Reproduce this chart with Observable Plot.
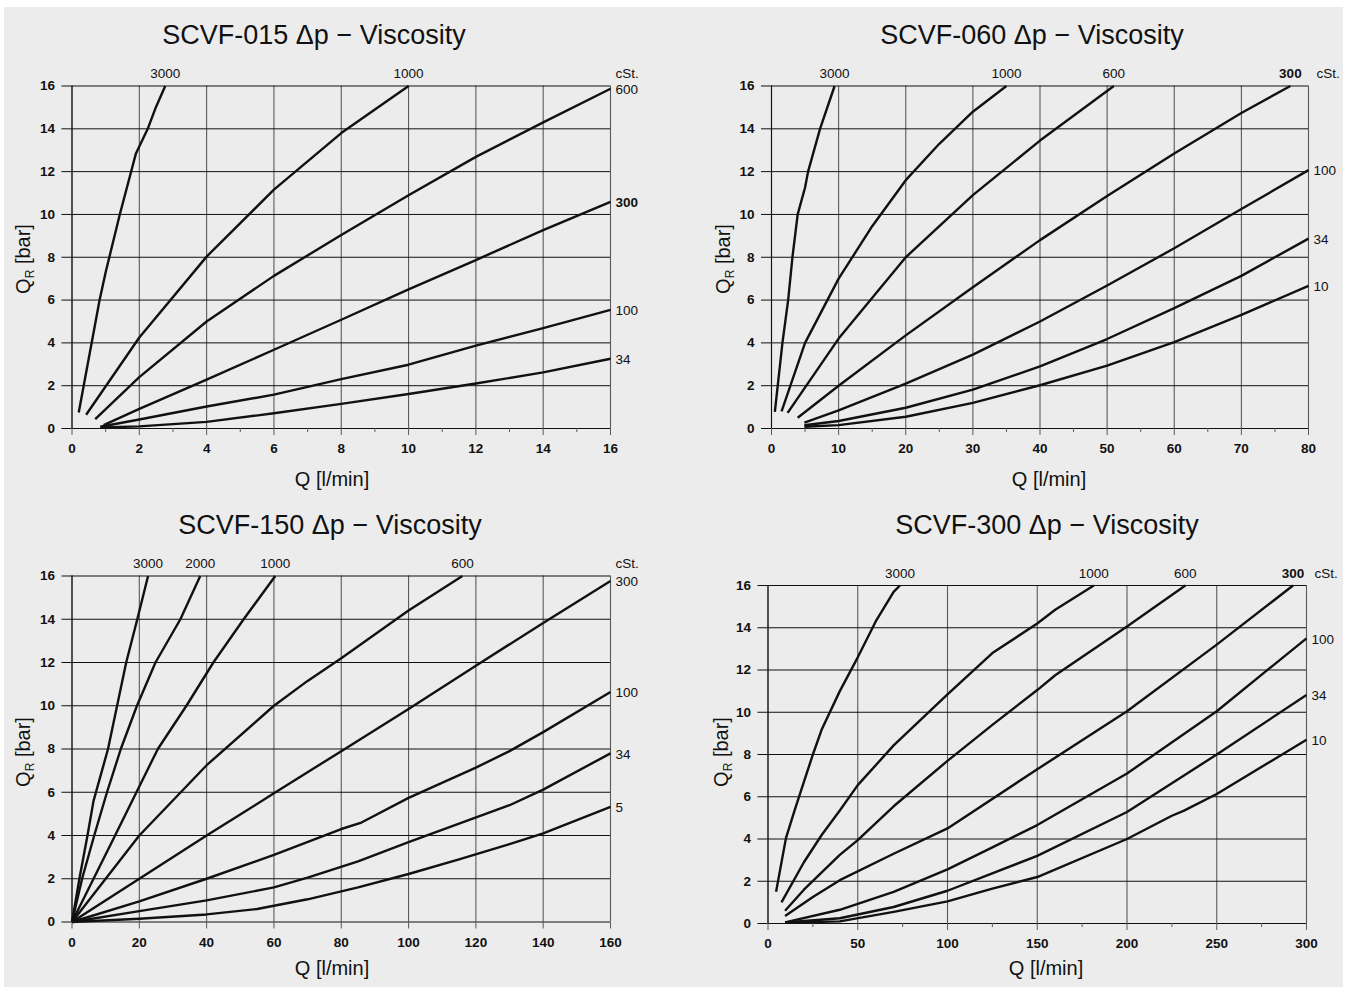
<!DOCTYPE html>
<html><head><meta charset="utf-8">
<script src="https://cdn.jsdelivr.net/npm/d3@7"></script>
<script src="https://cdn.jsdelivr.net/npm/@observablehq/plot@0.6"></script>
<style>
body{margin:0;background:#fff;width:1351px;height:990px;position:relative;overflow:hidden;font-family:"Liberation Sans",Arial,Helvetica,sans-serif;color:#111;}
#bg{position:absolute;left:4px;top:7px;width:1339px;height:980px;background:#ececec;}
.panel{position:absolute;}
.title{position:absolute;font-size:27px;transform:translate(-50%,-50%);white-space:nowrap;}
.xl{position:absolute;font-size:20px;transform:translate(-50%,-50%);white-space:nowrap;}
.yl{position:absolute;font-size:20px;transform:translate(-50%,-50%) rotate(-90deg);white-space:nowrap;}
.yl sub{font-size:12px;vertical-align:-4px;}
</style></head><body>
<div id="bg"></div>
<script>
// ---- shared ticks ----
const yTicks = [0, 2, 4, 6, 8, 10, 12, 14, 16];

// ---- SCVF-015 ----
const t015 = "SCVF-015 Δp − Viscosity";
const x015Ticks = [0, 2, 4, 6, 8, 10, 12, 14, 16];
const x015Minor = [1, 3, 5, 7, 9, 11, 13, 15];
const c015_3000 = [[0.2,0.75],[0.82,6.0],[1.0,7.3],[1.42,10.0],[1.9,12.85],[2.25,14.0],[2.49,15.0],[2.77,16]];
const c015_1000 = [[0.42,0.64],[2,4.25],[4,8.03],[6,11.16],[8,13.8],[10,16]];
const c015_600 = [[0.69,0.44],[2,2.4],[4,5.0],[6,7.13],[8,9.04],[10,10.9],[12,12.69],[14,14.3],[16,15.87]];
const c015_300 = [[0.94,0.16],[2,0.92],[4,2.28],[6,3.68],[8,5.08],[10,6.5],[12,7.87],[14,9.27],[16,10.59]];
const c015_100 = [[0.84,0.08],[2,0.42],[4,1.03],[6,1.58],[8,2.31],[10,2.98],[12,3.87],[14,4.69],[16,5.54]];
const c015_34 = [[0.84,0.05],[2,0.1],[4,0.31],[6,0.71],[8,1.15],[10,1.61],[12,2.1],[14,2.62],[16,3.26]];
const bold015 = ["300"];

// ---- SCVF-060 ----
const t060 = "SCVF-060 Δp − Viscosity";
const x060Ticks = [0, 10, 20, 30, 40, 50, 60, 70, 80];
const x060Minor = [5, 15, 25, 35, 45, 55, 65, 75];
const c060_3000 = [[0.5,0.78],[1.63,4],[2.48,6],[3.12,8],[3.9,10],[5.0,11.26],[5.45,12],[7.23,14],[9.4,16]];
const c060_1000 = [[1.5,0.8],[5,4.0],[10,7.0],[15,9.45],[20,11.6],[25,13.3],[30,14.8],[35,16]];
const c060_600 = [[2.4,0.73],[10,4.2],[20,8.0],[30,10.9],[40,13.45],[51,16]];
const c060_300 = [[3.9,0.5],[10,2.0],[20,4.35],[30,6.6],[40,8.8],[50,10.86],[60,12.85],[70,14.74],[77.3,16]];
const c060_100 = [[4.9,0.28],[10,0.85],[20,2.1],[30,3.45],[40,5.0],[50,6.68],[60,8.42],[70,10.25],[80,12.07]];
const c060_34 = [[4.9,0.15],[10,0.35],[20,0.97],[30,1.82],[40,2.9],[50,4.18],[60,5.62],[70,7.13],[80,8.87]];
const c060_10 = [[4.9,0.08],[10,0.16],[20,0.55],[30,1.2],[40,2.02],[50,2.94],[60,4.04],[70,5.31],[80,6.66]];
const bold060 = ["300"];

// ---- SCVF-150 ----
const t150 = "SCVF-150 Δp − Viscosity";
const x150Ticks = [0, 20, 40, 60, 80, 100, 120, 140, 160];
const x150Minor = [];
const c150_3000 = [[0,0],[2.2,2],[4.6,4],[6.4,5.6],[10.7,8],[13.4,10],[16.1,12],[19.4,14],[22.6,16]];
const c150_2000 = [[0,0],[3,2],[6.6,4],[10.4,6],[14.5,8],[19.3,10],[24.8,12],[32.2,14],[38.1,16]];
const c150_1000 = [[0,0],[12.8,4],[25.5,8],[34,10],[42,12],[51,14],[60.4,16]];
const c150_600 = [[0,0],[20,4.0],[40,7.25],[60,10.0],[70,11.15],[80,12.2],[100,14.4],[116,16]];
const c150_300 = [[0,0],[20,2],[40,4],[60,5.95],[80,7.9],[100,9.85],[120,11.85],[140,13.83],[160,15.77]];
const c150_100 = [[0,0],[20,0.95],[40,2.0],[60,3.1],[80,4.3],[86,4.6],[100,5.74],[120,7.14],[130,7.9],[140,8.78],[160,10.64]];
const c150_34 = [[0,0],[20,0.5],[40,1.0],[60,1.6],[70,2.05],[85,2.8],[100,3.69],[115,4.55],[130,5.4],[140,6.12],[160,7.8]];
const c150_5 = [[0,0],[20,0.15],[40,0.35],[55,0.6],[70,1.05],[85,1.6],[100,2.22],[115,2.9],[130,3.6],[140,4.1],[160,5.32]];
const bold150 = [];

// ---- SCVF-300 ----
const t300 = "SCVF-300 Δp − Viscosity";
const x300Ticks = [0, 50, 100, 150, 200, 250, 300];
const x300Minor = [25, 75, 125, 175, 225, 275];
const c300_3000 = [[4.5,1.5],[10,4.04],[15,5.4],[20,6.7],[25,8.0],[30,9.2],[40,11.0],[50,12.6],[60,14.3],[70,15.7],[73.5,16]];
const c300_1000 = [[7.5,1.0],[20,2.9],[30,4.2],[40,5.35],[50,6.55],[70,8.43],[100,10.85],[125,12.8],[150,14.2],[160,14.85],[181.5,16]];
const c300_600 = [[9.5,0.6],[20,1.6],[40,3.25],[50,3.95],[70,5.55],[100,7.7],[125,9.4],[150,11.05],[160,11.75],[200,14.06],[232.5,16]];
const c300_300 = [[9.5,0.35],[25,1.25],[40,2.05],[70,3.3],[100,4.5],[150,7.3],[200,10.05],[250,13.2],[292.5,16]];
const c300_100 = [[9.5,0.05],[40,0.65],[70,1.5],[100,2.56],[125,3.6],[150,4.66],[200,7.1],[250,10.05],[300,13.5]];
const c300_34 = [[9.5,0.05],[40,0.25],[70,0.78],[100,1.55],[150,3.2],[200,5.28],[250,8.0],[300,10.82]];
const c300_10 = [[9.5,0.03],[40,0.1],[70,0.55],[100,1.05],[125,1.65],[150,2.2],[200,4.0],[225,5.1],[231.5,5.33],[250,6.13],[300,8.7]];
const bold300 = ["300"];

const FONT = '"Liberation Sans", Arial, Helvetica, sans-serif';

const panels = [
  {title: t015, xTicks: x015Ticks, minor: x015Minor, bold: bold015,
   curves: [["3000",c015_3000],["1000",c015_1000],["600",c015_600],["300",c015_300],["100",c015_100],["34",c015_34]],
   box: {left: 0, top: 0, width: 675, height: 495, marginLeft: 71.5, marginRight: 65, marginTop: 85.5, marginBottom: 67},
   titlePos: [314, 35], xlPos: [332, 479], ylPos: [24, 259]},
  {title: t060, xTicks: x060Ticks, minor: x060Minor, bold: bold060,
   curves: [["3000",c060_3000],["1000",c060_1000],["600",c060_600],["300",c060_300],["100",c060_100],["34",c060_34],["10",c060_10]],
   box: {left: 675, top: 0, width: 676, height: 495, marginLeft: 96, marginRight: 43, marginTop: 85.5, marginBottom: 67},
   titlePos: [1032, 35], xlPos: [1049, 479], ylPos: [724, 259]},
  {title: t150, xTicks: x150Ticks, minor: x150Minor, bold: bold150,
   curves: [["3000",c150_3000],["2000",c150_2000],["1000",c150_1000],["600",c150_600],["300",c150_300],["100",c150_100],["34",c150_34],["5",c150_5]],
   box: {left: 0, top: 495, width: 675, height: 495, marginLeft: 71.5, marginRight: 65, marginTop: 80.5, marginBottom: 68.5},
   titlePos: [330, 525], xlPos: [332, 968], ylPos: [24, 752]},
  {title: t300, xTicks: x300Ticks, minor: x300Minor, bold: bold300,
   curves: [["3000",c300_3000],["1000",c300_1000],["600",c300_600],["300",c300_300],["100",c300_100],["34",c300_34],["10",c300_10]],
   box: {left: 675, top: 495, width: 676, height: 495, marginLeft: 92.5, marginRight: 45, marginTop: 90, marginBottom: 67},
   titlePos: [1047, 525], xlPos: [1046, 968], ylPos: [722, 752]}
];

function addDiv(cls, html, x, y) {
  const d = document.createElement("div");
  d.className = cls;
  d.innerHTML = html;
  d.style.left = x + "px";
  d.style.top = y + "px";
  document.body.appendChild(d);
}

for (const p of panels) {
  const xmax = p.xTicks[p.xTicks.length - 1];
  const rows = [];
  for (const [v, pts] of p.curves) for (const [q, dp] of pts) rows.push({v, q, dp});
  const ends = p.curves.map(([v, pts]) => ({v, q: pts[pts.length - 1][0], dp: pts[pts.length - 1][1]}));
  const topEnds = ends.filter(d => d.dp >= 16);
  const rightEnds = ends.filter(d => d.dp < 16);
  const isBold = d => p.bold.includes(d.v);
  const labelStyle = {fontSize: 13.5, fill: "#111", fontFamily: FONT};

  const chart = Plot.plot({
    width: p.box.width, height: p.box.height,
    marginLeft: p.box.marginLeft, marginRight: p.box.marginRight,
    marginTop: p.box.marginTop, marginBottom: p.box.marginBottom,
    x: {domain: [0, xmax]},
    y: {domain: [0, 16]},
    style: {background: "transparent", fontFamily: FONT, color: "#111", overflow: "visible"},
    marks: [
      Plot.ruleX(p.xTicks, {stroke: "#5a5a5a", strokeWidth: 1.1}),
      Plot.ruleY(yTicks, {stroke: "#111", strokeWidth: 1}),
      Plot.ruleX([0], {stroke: "#111", strokeWidth: 1.1}),
      Plot.axisY(yTicks, {tickSize: 10, tickPadding: 7, fontSize: 13.5, fontWeight: "bold", label: null, stroke: "#111"}),
      Plot.axisX(p.xTicks, {tickSize: 7, tickPadding: 8, fontSize: 13.5, fontWeight: "bold", label: null, stroke: "#5a5a5a"}),
      p.minor.length ? Plot.axisX(p.minor, {tickSize: 4, tickFormat: () => "", label: null, stroke: "#5a5a5a"}) : null,
      Plot.line(rows, {x: "q", y: "dp", z: "v", stroke: "#111", strokeWidth: 2.4, strokeLinejoin: "round", strokeLinecap: "butt"}),
      Plot.text(topEnds.filter(d => !isBold(d)), {x: "q", y: () => 16, text: "v", dy: -12, ...labelStyle}),
      Plot.text(topEnds.filter(isBold), {x: "q", y: () => 16, text: "v", dy: -12, fontWeight: "bold", ...labelStyle}),
      Plot.text(rightEnds.filter(d => !isBold(d)), {x: () => xmax, y: "dp", text: "v", dx: 5, dy: 1, textAnchor: "start", ...labelStyle}),
      Plot.text(rightEnds.filter(isBold), {x: () => xmax, y: "dp", text: "v", dx: 5, dy: 1, textAnchor: "start", fontWeight: "bold", ...labelStyle}),
      Plot.text(["cSt."], {x: () => xmax, y: () => 16, text: d => d, dx: topEnds.some(d => d.q > xmax * 0.95) ? 8 : 5, dy: -12, textAnchor: "start", ...labelStyle})
    ]
  });
  const wrap = document.createElement("div");
  wrap.className = "panel";
  wrap.style.left = p.box.left + "px";
  wrap.style.top = p.box.top + "px";
  wrap.appendChild(chart);
  document.body.appendChild(wrap);

  addDiv("title", p.title, p.titlePos[0], p.titlePos[1]);
  addDiv("xl", "Q [l/min]", p.xlPos[0], p.xlPos[1]);
  addDiv("yl", "Q<sub>R</sub> [bar]", p.ylPos[0], p.ylPos[1]);
}
</script>
</body></html>
